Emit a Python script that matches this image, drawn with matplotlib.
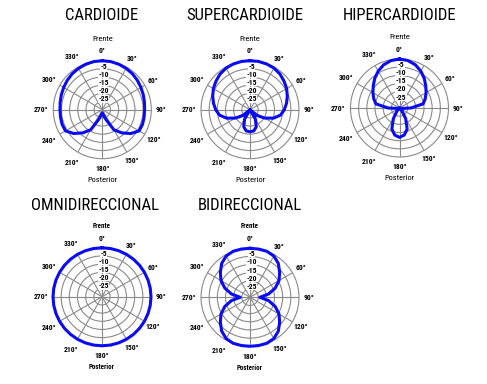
import numpy as np
import matplotlib
matplotlib.use('Agg')
import matplotlib.pyplot as plt
from matplotlib import transforms

W, H = 487, 384
R = 49  # radius of the outer ring in pixels

# response in dB, every 10 degrees from 0 (front) to 180 (rear); mirrored for the other side
half_angles = list(range(0, 190, 10))
cardioide = [0, -0.1, -0.4, -0.8, -1.3, -2.0, -2.7, -3.3, -3.8, -4.1,
             -4.0, -3.8, -4.0, -7.3, -11.5, -15.8, -23.8, -27.0, -28.0]
supercardioide = [0, 0, -0.2, -0.6, -1.5, -2.8, -4.1, -5.7, -7.3, -9.0,
                  -11.0, -14.8, -19.8, -24.5, -30.0, -23.4, -18.8, -16.8, -16.5]
hipercardioide = [0, -0.5, -1.8, -3.9, -6.4, -9.0, -11.2, -13.2, -15.3, -23.0,
                  -28.5, -30.0, -30.0, -30.0, -27.5, -22.5, -16.3, -13.2, -12.0]
omnidireccional = [0, 0, 0, 0, 0, 0, 0, 0, 0, 0,
                   0, 0, 0, 0, 0, 0, 0, 0, 0]
bidireccional = [0, 0, 0, -0.8, -3.0, -6.3, -9.5, -13.6, -18.5, -24.0,
                 -18.5, -13.6, -9.5, -6.3, -3.0, -0.8, 0, 0, 0]

ring_db = [-5, -10, -15, -20, -25]
spoke_deg = list(range(0, 360, 30))
titles = ['CARDIOIDE', 'SUPERCARDIOIDE', 'HIPERCARDIOIDE', 'OMNIDIRECCIONAL', 'BIDIRECCIONAL']

fam = ['Liberation Sans Narrow', 'Arial Narrow', 'Roboto Condensed', 'Archivo Narrow', 'DejaVu Sans']
grid_c = '#8a8a8a'

fig = plt.figure(figsize=(W / 100, H / 100), dpi=100)
fig.patch.set_facecolor('white')


def polar_panel(cx, cy, vals, title, tx, ty, bottom_row=False):
    ax = fig.add_axes([(cx - R) / W, 1 - (cy + R) / H, 2 * R / W, 2 * R / H],
                      projection='polar')
    ax.set_theta_zero_location('N')
    ax.set_theta_direction(-1)
    ax.set_ylim(0, 30)
    ax.set_yticks([d + 30 for d in ring_db])
    ax.set_yticklabels([])
    ax.set_xticks(np.deg2rad(spoke_deg))
    ax.set_xticklabels([])
    ax.grid(True, color=grid_c, lw=0.8)
    ax.spines['polar'].set_color(grid_c)
    ax.spines['polar'].set_linewidth(0.8)

    deg = half_angles + [360 - a for a in half_angles[-2::-1]]
    db = vals + vals[-2::-1]
    r = np.clip(np.array(db, dtype=float) + 30, 0, 30)
    ax.plot(np.deg2rad(deg), r, color='#0a0af5', lw=2.2, zorder=6, clip_on=False)

    # dB labels along the front axis
    shift = transforms.offset_copy(ax.transData, fig=fig, x=1.5, y=0, units='dots')
    for d in ring_db:
        ax.text(0, d + 30 + 1.7, str(d), transform=shift, ha='center', va='center',
                fontsize=5.5, family=fam, fontweight='bold', zorder=4,
                bbox=dict(facecolor='white', edgecolor='none', pad=0.2))

    # angle labels
    for a in spoke_deg:
        rl = 36 + (1.5 if a > 180 else 0)
        ax.text(np.deg2rad(a), rl, f'{a}°', ha='center', va='center',
                fontsize=5.5, family=fam, fontweight='bold')

    lab_size = 5 if bottom_row else 6
    ax.text(0, 43.5, 'Frente', ha='center', va='center', fontsize=lab_size,
            family=fam, fontweight='bold' if bottom_row else 'normal')
    ax.text(np.pi, 43.0, 'Posterior', ha='center', va='center', fontsize=lab_size,
            family=fam, fontweight='bold' if bottom_row else 'normal')

    fig.text(tx / W, 1 - ty / H, title, ha='center', va='center',
             fontsize=12, family=fam)
    return ax


polar_panel(102.3, 109.7, cardioide, titles[0], 102, 16)
polar_panel(250, 109.7, supercardioide, titles[1], 245, 16)
polar_panel(399.5, 108, hipercardioide, titles[2], 399, 16)
polar_panel(102, 296.8, omnidireccional, titles[3], 95, 205, bottom_row=True)
polar_panel(250, 297.3, bidireccional, titles[4], 250, 205, bottom_row=True)

fig.savefig('out.png', dpi=100)
